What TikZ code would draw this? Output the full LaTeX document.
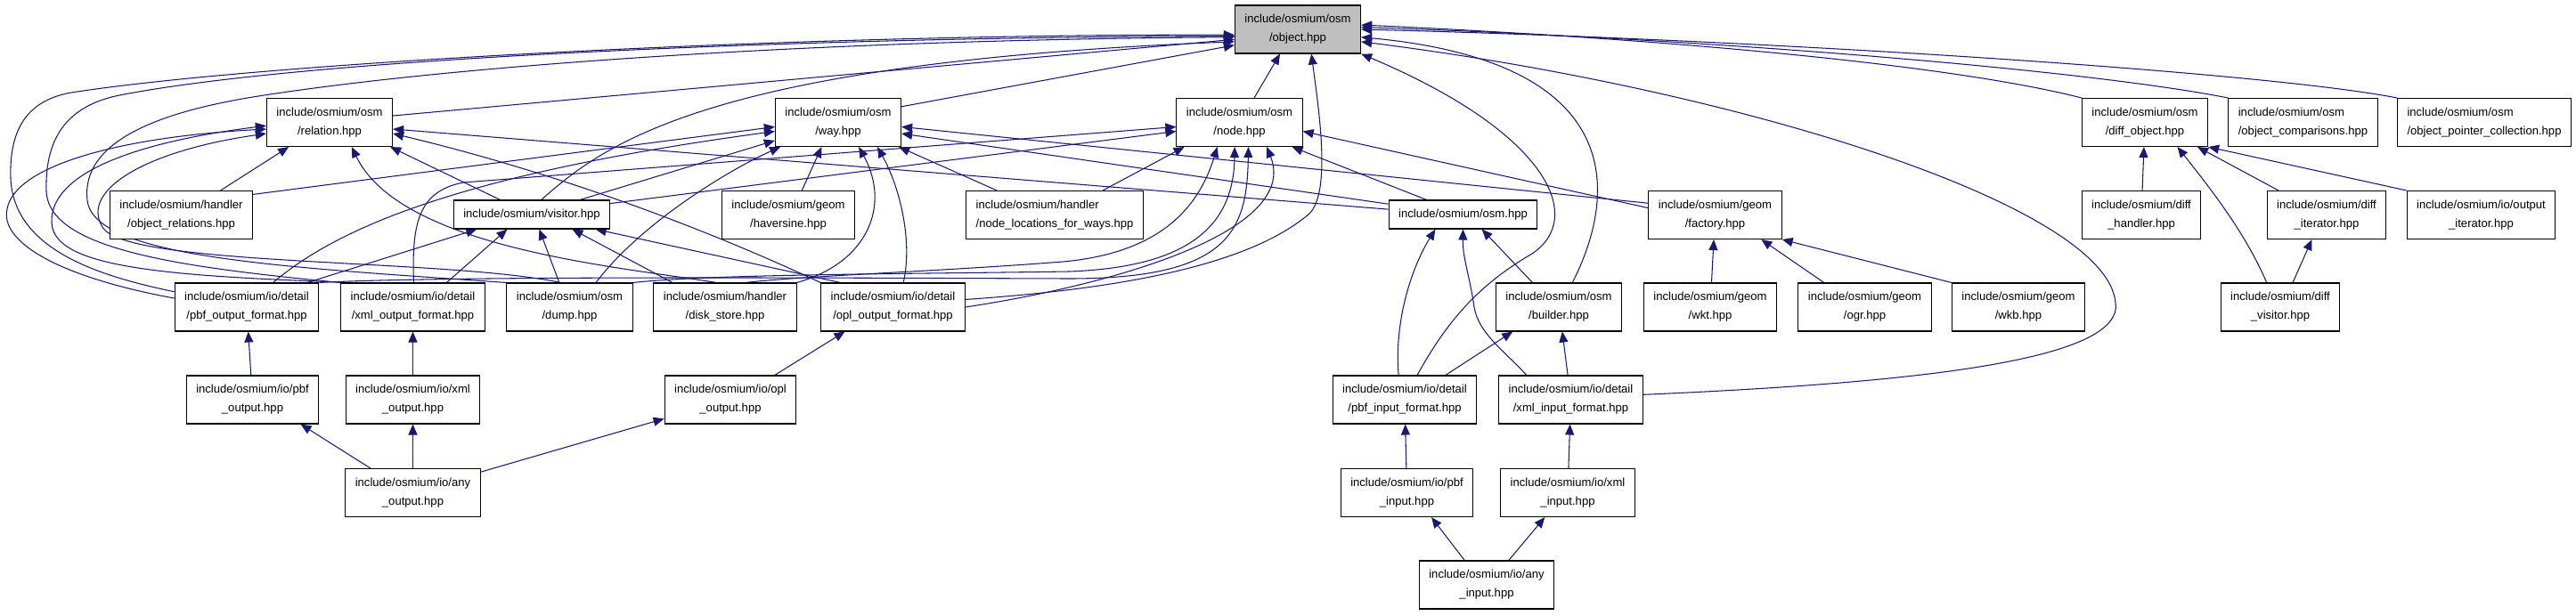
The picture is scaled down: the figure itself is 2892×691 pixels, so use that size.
\documentclass[tikz,border=0pt]{standalone}
\usepackage{fontspec}
\setmainfont{Liberation Sans}
\usepackage{xcolor}
\usetikzlibrary{arrows.meta, backgrounds}
\definecolor{edgeblue}{HTML}{191970}
\definecolor{objgray}{HTML}{BFBFBF}

\begin{document}
\begin{tikzpicture}[x=0.025cm, y=-0.025cm, >={Triangle[length=0.3cm,width=0.25cm]},
  font=\fontsize{9.3pt}{14.9pt}\selectfont,
  hdr/.style={draw=black, line width=0.75pt, fill=white, align=center,
    inner xsep=0.275cm, inner ysep=0.1cm, minimum height=1.35cm},
  hdrone/.style={hdr, minimum height=0.8cm},
  dep/.style={->, draw=edgeblue, line width=0.75pt}]
  \useasboundingbox (0,0) rectangle (2892,691);

  \node[hdr, fill=objgray] (obj) at (1457,33) {include/osmium/osm\\/object.hpp};

  \node[hdr] (rel)   at (370,137.5)  {include/osmium/osm\\/relation.hpp};
  \node[hdr] (way)   at (941,137.5)  {include/osmium/osm\\/way.hpp};
  \node[hdr] (nodeh) at (1391.5,137.5) {include/osmium/osm\\/node.hpp};
  \node[hdr] (dobj)  at (2408,137.5) {include/osmium/osm\\/diff\_object.hpp};
  \node[hdr, align=left] (ocmp) at (2585.5,137.5) {include/osmium/osm\\/object\_comparisons.hpp};
  \node[hdr, align=left] (opc)  at (2789,137.5) {include/osmium/osm\\/object\_pointer\_collection.hpp};

  \node[hdr] (orel)  at (203.5,241.5) {include/osmium/handler\\/object\_relations.hpp};
  \node[hdrone] (vis) at (597,241) {include/osmium/visitor.hpp};
  \node[hdr] (hav)   at (885,241.5) {include/osmium/geom\\/haversine.hpp};
  \node[hdr, align=left] (nlw) at (1184,241.5) {include/osmium/handler\\/node\_locations\_for\_ways.hpp};
  \node[hdrone] (osm) at (1642.5,241) {include/osmium/osm.hpp};
  \node[hdr] (fac)   at (1925.5,241.5) {include/osmium/geom\\/factory.hpp};
  \node[hdr] (dhand) at (2404,241.5) {include/osmium/diff\\\_handler.hpp};
  \node[hdr] (diter) at (2612,241.5) {include/osmium/diff\\\_iterator.hpp};
  \node[hdr] (oiter) at (2785.5,241.5) {include/osmium/io/output\\\_iterator.hpp};

  \node[hdr] (pbfof) at (277,345)    {include/osmium/io/detail\\/pbf\_output\_format.hpp};
  \node[hdr] (xmlof) at (463.5,345)  {include/osmium/io/detail\\/xml\_output\_format.hpp};
  \node[hdr] (dump)  at (639.5,345)  {include/osmium/osm\\/dump.hpp};
  \node[hdr] (disk)  at (814,345)    {include/osmium/handler\\/disk\_store.hpp};
  \node[hdr] (oplof) at (1002.5,345) {include/osmium/io/detail\\/opl\_output\_format.hpp};
  \node[hdr] (bld)   at (1750,345)   {include/osmium/osm\\/builder.hpp};
  \node[hdr] (wkt)   at (1920,345)   {include/osmium/geom\\/wkt.hpp};
  \node[hdr] (ogr)   at (2093.5,345) {include/osmium/geom\\/ogr.hpp};
  \node[hdr] (wkb)   at (2266,345)   {include/osmium/geom\\/wkb.hpp};
  \node[hdr] (dvis)  at (2560,345)   {include/osmium/diff\\\_visitor.hpp};

  \node[hdr] (pbfo)  at (283.5,449)  {include/osmium/io/pbf\\\_output.hpp};
  \node[hdr] (xmlo)  at (463.5,449)  {include/osmium/io/xml\\\_output.hpp};
  \node[hdr] (oplo)  at (820,449)    {include/osmium/io/opl\\\_output.hpp};
  \node[hdr] (pbfif) at (1577,449)   {include/osmium/io/detail\\/pbf\_input\_format.hpp};
  \node[hdr] (xmlif) at (1763.5,449) {include/osmium/io/detail\\/xml\_input\_format.hpp};

  \node[hdr] (anyo)  at (463.5,553.5) {include/osmium/io/any\\\_output.hpp};
  \node[hdr] (pbfi)  at (1579.5,553.5) {include/osmium/io/pbf\\\_input.hpp};
  \node[hdr] (xmli)  at (1760,553.5)  {include/osmium/io/xml\\\_input.hpp};
  \node[hdr] (anyi)  at (1669,657)    {include/osmium/io/any\\\_input.hpp};

  \begin{scope}[on background layer]
  % object.hpp
  \draw[dep] (rel.6) -- (obj.189);
  \draw[dep] (vis.57) .. controls (680,160) and (800,70) .. (obj.191);
  \draw[dep] (way.14) -- (obj.194);
  \draw[dep] (nodeh.59) -- (obj.234);
  \draw[dep] (oplof.6) .. controls (1250,325) and (1400,300) .. (1470,240) .. controls (1495,215) and (1480,120) .. (obj.299);
  \draw[dep] (pbfof.168) .. controls (110,310) and (15,280) .. (12,200) .. controls (10,140) and (35,112) .. (80,104) .. controls (300,70) and (900,38) .. (obj.185);
  \draw[dep] (xmlof.north west) .. controls (200,300) and (55,280) .. (52,215) .. controls (50,150) and (80,118) .. (134,107) .. controls (350,65) and (900,42) .. (obj.186);
  \draw[dep] (dump.north west) .. controls (320,300) and (105,290) .. (98,225) .. controls (92,170) and (150,130) .. (290,108) .. controls (500,75) and (900,45) .. (obj.187);
  \draw[dep] (dobj.north west) .. controls (2200,75) and (1900,45) .. (obj.4);
  \draw[dep] (ocmp.north west) .. controls (2350,80) and (1950,45) .. (obj.2);
  \draw[dep] (opc.north west) .. controls (2550,82) and (2000,45) .. (obj.0);
  \draw[dep] (bld.61) .. controls (1815,220) and (1830,70) .. (obj.353);
  \draw[dep] (xmlif.4) .. controls (2150,430) and (2385,405) .. (2375,340) .. controls (2365,230) and (1950,100) .. (obj.349);
  \draw[dep] (pbfif.63) .. controls (1625,360) and (1660,320) .. (1720,285) .. controls (1780,245) and (1740,150) .. (obj.south east);
  % relation.hpp
  \draw[dep] (pbfof.173) .. controls (60,310) and (0,270) .. (8,235) .. controls (15,190) and (120,155) .. (rel.186);
  \draw[dep] (xmlof.158) .. controls (180,310) and (60,300) .. (58,250) .. controls (56,195) and (150,160) .. (rel.183);
  \draw[dep] (dump.110) .. controls (500,290) and (140,300) .. (115,255) .. controls (90,215) and (160,170) .. (rel.190);
  \draw[dep] (orel.32) -- (rel.211);
  \draw[dep] (vis.155) -- (rel.338);
  \draw[dep] (disk.110) .. controls (700,300) and (450,280) .. (rel.312);
  \draw[dep] (oplof.north west) .. controls (820,270) and (650,200) .. (rel.350);
  \draw[dep] (osm.176) -- (rel.354);
  % way.hpp
  \draw[dep] (orel.16) -- (way.184);
  \draw[dep] (pbfof.43) .. controls (380,255) and (520,195) .. (way.188);
  \draw[dep] (vis.17) -- (way.196);
  \draw[dep] (dump.43) .. controls (720,250) and (820,190) .. (way.203);
  \draw[dep] (hav.61) -- (way.236);
  \draw[dep] (disk.north east) .. controls (975,295) and (1000,230) .. (way.310);
  \draw[dep] (oplof.67) .. controls (1025,270) and (1010,210) .. (way.328);
  \draw[dep] (nlw.157) -- (way.338);
  \draw[dep] (fac.170) -- (way.356);
  \draw[dep] (osm.172) -- (way.350);
  % node.hpp
  \draw[dep] (xmlof.88) .. controls (462,250) and (470,215) .. (520,205) -- (nodeh.184);
  \draw[dep] (vis.8) -- (nodeh.188);
  \draw[dep] (nlw.27) -- (nodeh.204);
  \draw[dep] (disk.50) .. controls (900,310) and (1050,305) .. (1180,295) .. controls (1300,288) and (1345,235) .. (nodeh.228);
  \draw[dep] (dump.north east) .. controls (800,308) and (1000,308) .. (1200,305) .. controls (1340,300) and (1385,250) .. (nodeh.259);
  \draw[dep] (pbfof.north east) .. controls (500,310) and (900,312) .. (1200,313) .. controls (1380,313) and (1400,260) .. (nodeh.290);
  \draw[dep] (oplof.0) .. controls (1250,320) and (1460,260) .. (nodeh.318);
  \draw[dep] (osm.158) -- (nodeh.335);
  \draw[dep] (fac.174) -- (nodeh.352);
  % visitor.hpp
  \draw[dep] (pbfof.22) -- (vis.195);
  \draw[dep] (xmlof.36) -- (vis.211);
  \draw[dep] (dump.113) -- (vis.297);
  \draw[dep] (disk.155) -- (vis.340);
  \draw[dep] (oplof.155) -- (vis.347);
  % osm.hpp, builder.hpp
  \draw[dep] (pbfif.104) .. controls (1565,360) and (1585,300) .. (osm.208);
  \draw[dep] (xmlif.151) .. controls (1690,395) and (1660,375) .. (1655,345) .. controls (1650,310) and (1642,290) .. (osm.270);
  \draw[dep] (bld.137) -- (osm.322);
  \draw[dep] (pbfif.31) -- (bld.208);
  \draw[dep] (xmlif.97) -- (bld.278);
  % geom
  \draw[dep] (wkt) -- (fac);
  \draw[dep] (ogr.149) -- (fac.332);
  \draw[dep] (wkb.north west) -- (fac.south east);
  % diff
  \draw[dep] (dhand) -- (dobj);
  \draw[dep] (dvis.119) .. controls (2520,260) and (2480,210) .. (dobj.323);
  \draw[dep] (diter.153) -- (dobj.335);
  \draw[dep] (oiter.north west) -- (dobj.south east);
  \draw[dep] (dvis.63) -- (diter.239);
  % io
  \draw[dep] (pbfo) -- (pbfof);
  \draw[dep] (xmlo) -- (xmlof);
  \draw[dep] (oplo.29) -- (oplof.207);
  \draw[dep] (anyo.150) -- (pbfo.333);
  \draw[dep] (anyo) -- (xmlo);
  \draw[dep] (anyo.17) -- (oplo.196);
  \draw[dep] (pbfi) -- (pbfif);
  \draw[dep] (xmli) -- (xmlif);
  \draw[dep] (anyi.132) -- (pbfi.315);
  \draw[dep] (anyi.48) -- (xmli.227);
  \end{scope}
\end{tikzpicture}
\end{document}
